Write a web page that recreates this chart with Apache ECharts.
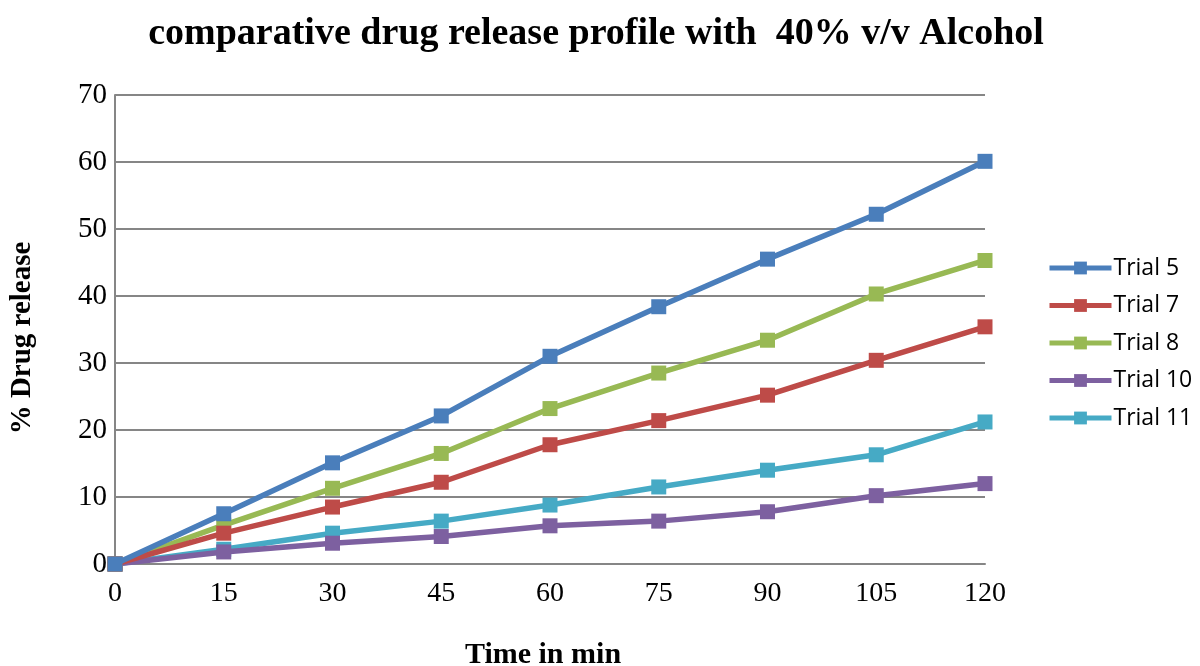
<!DOCTYPE html>
<html>
<head>
<meta charset="utf-8">
<script src="https://cdn.jsdelivr.net/npm/echarts@6/dist/echarts.min.js"></script>
<style>html,body{margin:0;padding:0;background:#fff}#c{width:1200px;height:666px}</style>
</head>
<body>
<div id="c"></div>
<script>
const times = [0, 15, 30, 45, 60, 75, 90, 105, 120];
const trial5  = [0, 7.5, 15.1, 22.1, 31.0, 38.4, 45.5, 52.2, 60.1];
const trial7  = [0, 4.6, 8.5, 12.2, 17.8, 21.4, 25.2, 30.4, 35.4];
const trial8  = [0, 5.8, 11.3, 16.5, 23.2, 28.5, 33.4, 40.3, 45.3];
const trial10 = [0, 1.8, 3.1, 4.1, 5.7, 6.4, 7.8, 10.2, 12.0];
const trial11 = [0, 2.2, 4.6, 6.4, 8.8, 11.5, 14.0, 16.3, 21.2];
const seriesNames = ['Trial 5', 'Trial 7', 'Trial 8', 'Trial 10', 'Trial 11'];
const seriesData = [trial5, trial7, trial8, trial10, trial11];
const colors = ['#4a7ebb', '#be4b48', '#98b954', '#7d60a0', '#46aac5'];

const chart = echarts.init(document.getElementById('c'));
chart.setOption({
  animation: false,
  title: {
    text: 'comparative drug release profile with  40% v/v Alcohol',
    left: 591, top: 10, textAlign: 'center',
    textStyle: { fontFamily: 'Liberation Serif', fontWeight: 'bold', fontSize: 38, color: '#000' }
  },
  legend: {
    orient: 'vertical', left: 1042, top: 250,
    itemWidth: 62, itemHeight: 16, itemGap: 11.5,
    lineStyle: { width: 5 },
    textStyle: { fontFamily: 'Open Sans', fontSize: 23, lineHeight: 26, color: '#000', padding: [0,0,0,-3] },
    data: seriesNames
  },
  grid: { left: 115, right: 215, top: 95, bottom: 102, containLabel: false, outerBoundsMode: 'none' },
  xAxis: {
    type: 'value', min: 0, max: 120, interval: 15,
    name: 'Time in min', nameLocation: 'middle', nameGap: 76,
    nameTextStyle: { fontFamily: 'Liberation Serif', fontWeight: 'bold', fontSize: 30, color: '#000', padding: [0, 14, 0, 0] },
    axisLine: { show: true, lineStyle: { color: '#868686', width: 2 } },
    axisTick: { show: false },
    splitLine: { show: false },
    axisLabel: { fontFamily: 'Liberation Serif', fontSize: 28, color: '#000', margin: 16 }
  },
  yAxis: {
    type: 'value', min: 0, max: 70, interval: 10,
    name: '% Drug release', nameLocation: 'middle', nameGap: 78, nameRotate: 90,
    nameTextStyle: { fontFamily: 'Liberation Serif', fontWeight: 'bold', fontSize: 29, color: '#000', padding: [0, 17, 0, 0] },
    axisLine: { show: true, lineStyle: { color: '#868686', width: 2 } },
    axisTick: { show: false },
    splitLine: { show: true, lineStyle: { color: '#868686', width: 2 } },
    axisLabel: { fontFamily: 'Liberation Serif', fontSize: 29, color: '#000', margin: 8 }
  },
  series: seriesNames.map((n, i) => ({
    name: n, type: 'line',
    data: times.map((t, j) => [t, seriesData[i][j]]),
    symbol: 'rect', symbolSize: 15,
    lineStyle: { width: 5.5, color: colors[i] },
    itemStyle: { color: colors[i] },
    z: 10 - i
  }))
});
</script>
</body>
</html>
